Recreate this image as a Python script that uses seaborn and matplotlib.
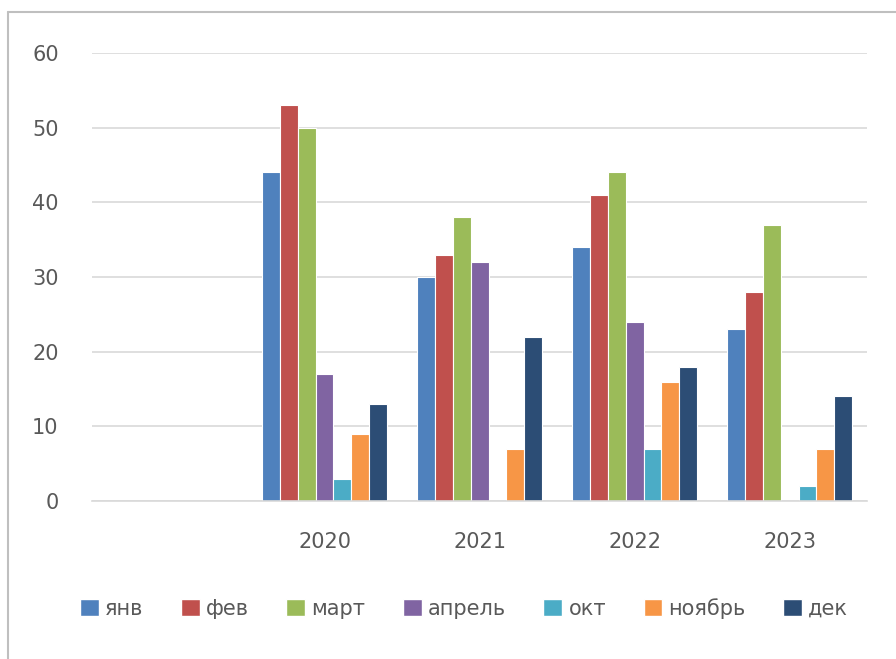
import matplotlib
matplotlib.use("Agg")
import matplotlib.pyplot as plt
from matplotlib.lines import Line2D
from matplotlib.patches import Patch
import seaborn as sns
import pandas as pd

# data
years = [' ', '2020', '2021', '2022', '2023']
months = ['янв', 'фев', 'март', 'апрель', 'окт', 'ноябрь', 'дек']
jan = [44, 30, 34, 23]
feb = [53, 33, 41, 28]
mar = [50, 38, 44, 37]
apr = [17, 32, 24, 0]
octo = [3, 0, 7, 2]
nov = [9, 7, 16, 7]
dec = [13, 22, 18, 14]
colors = ['#4F81BD', '#C0504D', '#9BBB59', '#8064A2', '#4BACC6', '#F79646', '#2C4D75']

rows = []
for m, vals in zip(months, [jan, feb, mar, apr, octo, nov, dec]):
    for y, v in zip(years[1:], vals):
        rows.append({'year': y, 'month': m, 'value': v})
df = pd.DataFrame(rows)

sns.set_style('white')
plt.rcParams['font.family'] = ['DejaVu Sans']
fig = plt.figure(figsize=(8.96, 6.59), dpi=100)
ax = fig.add_axes([0.1027, 0.2398, 0.865, 0.6798])

sns.barplot(data=df, x='year', y='value', hue='month', order=years, hue_order=months,
            palette=colors, saturation=1, width=0.81, edgecolor='white', linewidth=0.8,
            legend=False, ax=ax)

ax.set_ylim(0, 60)
ax.set_yticks(range(0, 61, 10))
ax.grid(axis='y', color='#D9D9D9', linewidth=1.2)
ax.set_axisbelow(True)
for s in ['top', 'right', 'left']:
    ax.spines[s].set_visible(False)
ax.spines['bottom'].set_color('#D9D9D9')
ax.spines['bottom'].set_linewidth(1.2)
ax.set_xlabel('')
ax.set_ylabel('')
ax.tick_params(axis='y', length=0, pad=24, labelsize=15, labelcolor='#595959')
ax.tick_params(axis='x', length=0, pad=22, labelsize=15, labelcolor='#595959')

handles = [Patch(facecolor=c, edgecolor='white') for c in colors]
fig.legend(handles, months, loc='center', bbox_to_anchor=(0.518, 0.077), ncol=7,
           frameon=False, fontsize=15, labelcolor='#595959', handlelength=0.9,
           handleheight=0.9, handletextpad=0.3, columnspacing=1.8)

# chart area border (left and top visible in reference)
fig.add_artist(Line2D([8 / 896, 8 / 896], [0, 1 - 12 / 659], transform=fig.transFigure,
                      color='#BFBFBF', linewidth=1.5))
fig.add_artist(Line2D([8 / 896, 1], [1 - 12 / 659, 1 - 12 / 659], transform=fig.transFigure,
                      color='#BFBFBF', linewidth=1.5))

fig.savefig('out.png', dpi=100)
